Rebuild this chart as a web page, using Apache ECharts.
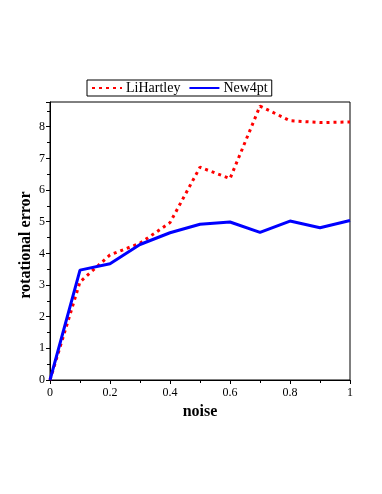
<!DOCTYPE html>
<html>
<head>
<meta charset="utf-8">
<script src="https://cdn.jsdelivr.net/npm/echarts@6/dist/echarts.min.js"></script>
<style>
  html, body { margin: 0; padding: 0; background: #fff; }
  #main { width: 382px; height: 494px; }
</style>
</head>
<body>
<div id="main"></div>
<script>
// noise levels on the x axis
var noise = [0, 0.1, 0.2, 0.3, 0.4, 0.5, 0.6, 0.7, 0.8, 0.9, 1.0]
// rotational error per method
var liHartley = [0, 3.1, 3.95, 4.32, 4.97, 6.72, 6.36, 8.65, 8.19, 8.13, 8.15]
var new4pt = [0, 3.47, 3.67, 4.28, 4.65, 4.92, 4.99, 4.66, 5.02, 4.81, 5.04]

function pairs(xs, ys) {
  return xs.map(function (x, i) { return [x, ys[i]] })
}

var font = 'Liberation Serif'
var myChart = echarts.init(document.getElementById('main'))
var option = {
  animation: false,
  backgroundColor: '#fff',
  legend: {
    top: 80,
    left: 87,
    itemGap: 8,
    itemWidth: 30,
    itemHeight: 10,
    padding: [1, 4, 1, 4],
    borderColor: '#000',
    borderWidth: 1,
    itemStyle: { opacity: 0 },
    textStyle: { fontFamily: font, fontSize: 14, color: '#000', padding: [0, 0, 0, -1] },
    data: ['LiHartley', 'New4pt']
  },
  grid: {
    left: 50,
    right: 32,
    top: 102,
    bottom: 114,
    show: true,
    borderColor: '#000',
    borderWidth: 1
  },
  xAxis: {
    type: 'value',
    min: 0,
    max: 1,
    interval: 0.2,
    name: 'noise',
    nameLocation: 'middle',
    nameGap: 20,
    nameTextStyle: { fontFamily: font, fontSize: 16, fontWeight: 'bold', color: '#000' },
    axisLine: { lineStyle: { color: '#000', width: 1 } },
    axisTick: { show: true, length: 4, lineStyle: { color: '#000' } },
    minorTick: { show: true, splitNumber: 2, length: 3, lineStyle: { color: '#000' } },
    axisLabel: { fontFamily: font, fontSize: 12, color: '#000', margin: 7 },
    splitLine: { show: false }
  },
  yAxis: {
    type: 'value',
    min: 0,
    max: 8.78,
    interval: 1,
    name: 'rotational error',
    nameLocation: 'middle',
    nameMoveOverlap: false,
    nameGap: 16,
    nameTextStyle: {
      fontFamily: font,
      fontSize: 16,
      fontWeight: 'bold',
      color: '#000',
      padding: [0, 8, 0, 0]
    },
    axisLine: { show: true, lineStyle: { color: '#000', width: 1 } },
    axisTick: { show: true, length: 4, lineStyle: { color: '#000' } },
    minorTick: { show: true, splitNumber: 2, length: 3, lineStyle: { color: '#000' } },
    axisLabel: { fontFamily: font, fontSize: 12, color: '#000', margin: 5, showMaxLabel: false },
    splitLine: { show: false }
  },
  series: [
    {
      name: 'LiHartley',
      type: 'line',
      showSymbol: false,
      symbol: 'none',
      color: '#ff0000',
      lineStyle: { color: '#ff0000', width: 3, type: [3, 4] },
      data: pairs(noise, liHartley)
    },
    {
      name: 'New4pt',
      type: 'line',
      showSymbol: false,
      symbol: 'none',
      color: '#0000ff',
      lineStyle: { color: '#0000ff', width: 3 },
      data: pairs(noise, new4pt)
    }
  ]
}
myChart.setOption(option)
</script>
</body>
</html>
